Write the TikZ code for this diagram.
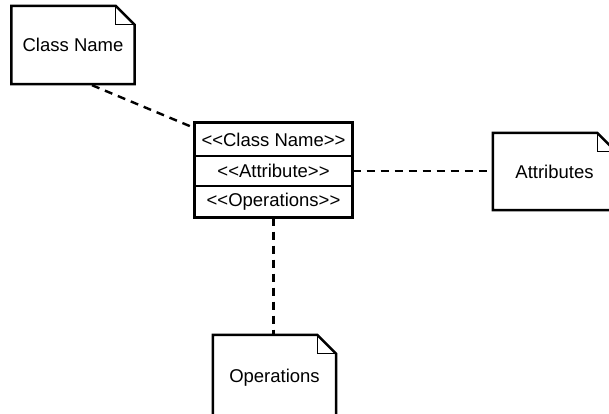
\documentclass[tikz,border=0pt]{standalone}
\usepackage{fontspec}
\setmainfont{Liberation Sans}
\usetikzlibrary{calc}
\tikzset{
  x=1pt, y=-1pt,
  notetext/.style={inner sep=0pt, minimum width=123pt, font=\fontsize{18.5}{21}\selectfont},
  noteline/.style={line width=2.5pt, line join=miter},
  foldline/.style={line width=1.2pt},
  row/.style={draw, line width=1.2pt, inner sep=0pt, minimum width=157pt, font=\fontsize{18.5}{21}\selectfont},
  boxline/.style={line width=2.5pt},
  dashline/.style={line width=2.4pt, dash pattern=on 8pt off 6pt}
}
\newcommand\lguil{<\kern0pt<}
\newcommand\rguil{>\kern0pt>}
\newcommand\dognote[1]{%
  \draw[noteline] (#1.north west) -- ([xshift=-19pt]#1.north east) -- ([yshift=-19pt]#1.north east) -- (#1.south east) -- (#1.south west) -- cycle;
  \draw[foldline] ([xshift=-19pt]#1.north east) -- ([xshift=-19pt,yshift=-19pt]#1.north east) -- ([yshift=-19pt]#1.north east);
}
\begin{document}
\begin{tikzpicture}
\useasboundingbox (0,0) rectangle (609,413);
\clip (0,0) rectangle (609,413);
% notes
\node[notetext, minimum height=78pt] (cn) at (73,45) {Class Name};
\dognote{cn}
\node[notetext, minimum height=77pt] (an) at (554.5,171.5) {Attributes};
\dognote{an}
\node[notetext, minimum height=86pt] (on) at (274.5,378) {Operations};
\dognote{on}
% class box
\node[row, minimum height=33pt] (r1) at (273.5,139.5) {\lguil Class Name\rguil};
\node[row, minimum height=30pt] (r2) at (273.5,171) {\lguil Attribute\rguil};
\node[row, minimum height=31pt] (r3) at (273.5,201.5) {\lguil Operations\rguil};
\draw[boxline] (r1.north west) rectangle (r3.south east);
% connectors
\draw[dashline] ($(cn.south)+(19,1)$) -- ([yshift=11.5pt]r1.west);
\draw[dashline] (r2.east) -- (r2.east -| an.west);
\draw[dashline] (r3.south) -- (r3.south |- on.north);
\end{tikzpicture}
\end{document}
